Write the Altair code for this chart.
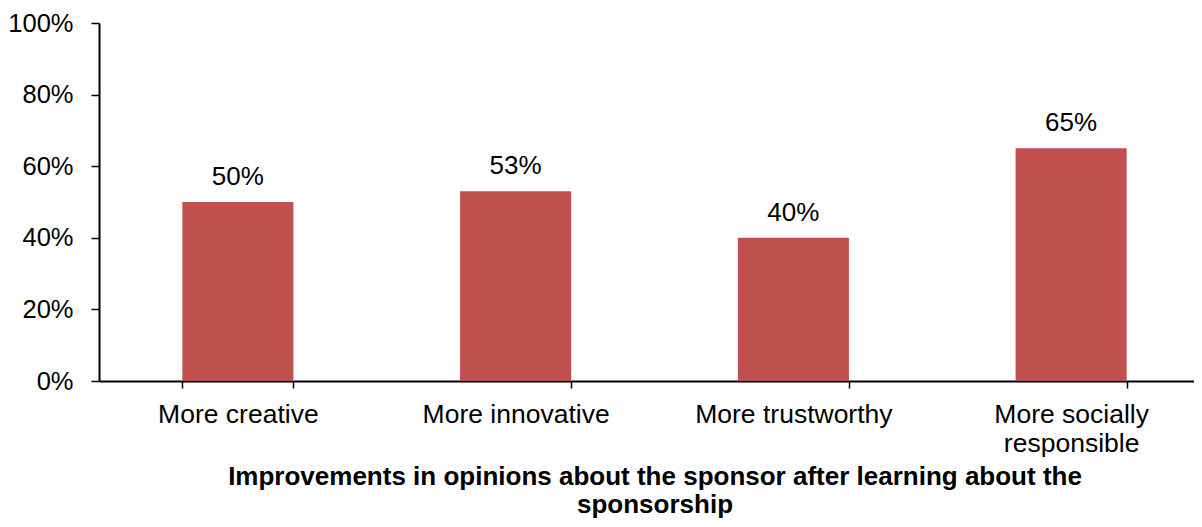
import altair as alt
import pandas as pd

categories = ["More creative", "More innovative", "More trustworthy", "More socially responsible"]
values = [0.50, 0.53, 0.40, 0.65]
y_ticks = [0, 0.2, 0.4, 0.6, 0.8, 1.0]
x_title = ["Improvements in opinions about the sponsor after learning about the", "sponsorship"]

df = pd.DataFrame({"category": categories, "value": values})

FONT = "Liberation Sans"

x_enc = alt.X(
    "category:N",
    sort=categories,
    scale=alt.Scale(paddingInner=0.6, paddingOuter=0.3),
    axis=alt.Axis(
        title=x_title,
        labelAngle=0,
        labelFontSize=26.5,
        labelFont=FONT,
        labelColor="black",
        labelPadding=13,
        labelLimit=0,
        labelLineHeight=29.5,
        labelExpr="datum.label == 'More socially responsible' ? ['More socially', 'responsible'] : datum.label",
        tickSize=7,
        tickWidth=1.5,
        tickColor="black",
        tickBand="extent",
        domainColor="black",
        domainWidth=2,
        titleFontSize=26,
        titleFont=FONT,
        titleFontWeight="bold",
        titleColor="black",
        titleY=103,
        titleBaseline="alphabetic",
        titleLineHeight=28,
    ),
)

y_enc = alt.Y(
    "value:Q",
    scale=alt.Scale(domain=[0, 1], nice=False),
    axis=alt.Axis(
        title=None,
        values=y_ticks,
        format=".0%",
        grid=False,
        labelFontSize=25.5,
        labelFont=FONT,
        labelColor="black",
        labelPadding=18,
        tickSize=8,
        tickWidth=1.5,
        tickColor="black",
        domainColor="black",
        domainWidth=2,
    ),
)

bars = alt.Chart(df).mark_bar(color="#C0504D").encode(x=x_enc, y=y_enc)

labels = alt.Chart(df).mark_text(
    dy=-17, baseline="alphabetic", fontSize=26, font=FONT, color="black"
).encode(
    x=alt.X("category:N", sort=categories),
    y=alt.Y("value:Q"),
    text=alt.Text("value:Q", format=".0%"),
)

chart = (
    alt.layer(bars, labels)
    .properties(
        width=1111,
        height=358,
        autosize=alt.AutoSizeParams(type="none"),
        padding={"left": 91, "top": 15, "right": -16, "bottom": 138},
        background="white",
    )
    .configure_view(stroke=None)
)

chart.save("out.html", embed_options={"renderer": "svg", "actions": False})
